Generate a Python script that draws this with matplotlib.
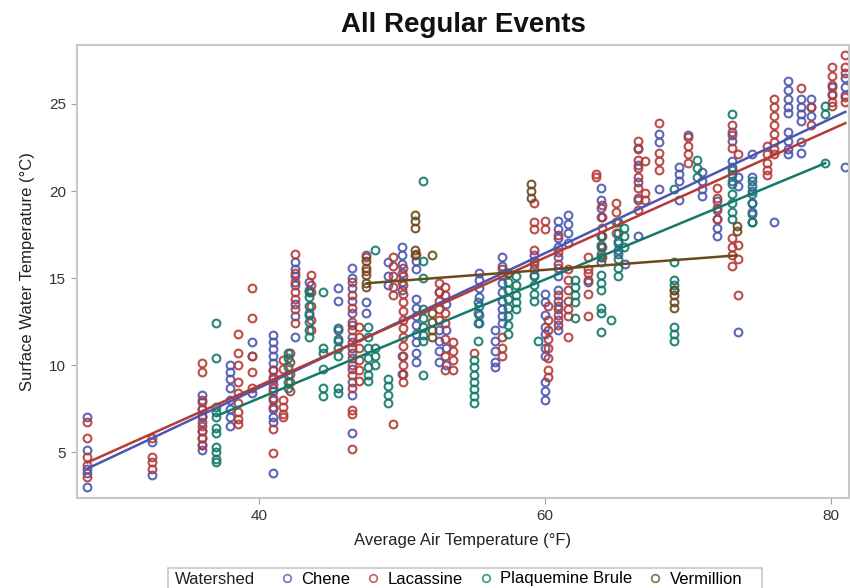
import matplotlib
matplotlib.use('Agg')
import matplotlib.pyplot as plt
from matplotlib.lines import Line2D
from matplotlib.patches import Rectangle

plt.rcParams['font.family'] = ['Liberation Sans', 'DejaVu Sans']

# ---------------- data ----------------
series_names = ['Chene', 'Lacassine', 'Plaquemine Brule', 'Vermillion']
series_colors = ['#4a56b2', '#b53a36', '#137a68', '#6b4a1e']

chene_cols_x = [28.0, 32.5, 36.0, 38.0, 39.5, 41.0, 42.5, 43.5, 45.5, 46.5, 47.5, 49.0,
                50.0, 51.0, 52.6, 53.1, 55.4, 56.5, 57.0, 59.2, 60.0, 60.9, 61.6, 63.0,
                63.9, 65.1, 65.6, 66.5, 68.0, 69.4, 70.0, 71.0, 72.0, 73.1, 73.5, 74.5,
                76.0, 77.0, 77.9, 78.6, 80.1, 81.0]
chene_cols_y = [
    [7.0, 5.1, 3.8, 3.0, 4.0],
    [5.6, 3.7],
    [8.3, 7.9, 7.5, 7.1, 6.7, 6.2, 5.8, 5.4, 5.1],
    [10.0, 9.6, 9.2, 8.7, 8.0, 7.5, 7.0, 6.5],
    [11.3, 10.5, 8.4],
    [11.7, 11.3, 10.9, 10.5, 10.1, 9.7, 9.3, 8.9, 8.5, 8.0, 7.5, 7.0, 6.7, 3.8],
    [15.9, 15.5, 15.1, 14.6, 13.5, 12.8, 11.6],
    [14.8, 14.3, 13.0],
    [14.4, 13.7, 12.0, 11.4],
    [15.6, 15.0, 14.4, 13.7, 13.0, 12.3, 11.6, 11.0, 10.4, 9.8, 9.0, 8.3, 6.1],
    [16.3, 13.6, 13.0],
    [15.9, 15.1, 14.6],
    [16.8, 16.3, 15.8, 15.3, 14.8, 14.3, 10.5, 9.5],
    [16.0, 15.5, 13.8, 13.3, 12.8, 12.3, 11.8, 11.3, 10.7, 10.2],
    [14.2, 12.0, 11.4, 10.8, 10.2],
    [13.5, 12.0, 11.0, 10.0],
    [15.3, 14.9, 14.4, 13.9, 13.4, 12.9, 12.4],
    [12.0, 11.4, 10.8, 10.2, 9.9],
    [16.2, 15.7, 15.2, 14.7, 14.2, 13.7, 13.2, 12.8, 12.4],
    [16.3, 15.8, 15.2],
    [14.1, 13.6, 12.9, 12.2, 11.8, 11.0, 10.5, 9.0, 8.5, 8.0],
    [18.3, 17.8, 17.3, 16.8, 16.2, 15.6, 15.1, 14.3, 13.7, 13.2, 12.6, 12.0],
    [18.6, 18.1, 17.6, 17.0],
    [14.8],
    [20.2, 19.5, 19.0, 18.5, 17.4, 16.8, 16.2],
    [17.0, 16.4],
    [15.8],
    [22.5, 21.5, 20.5, 19.5, 17.4],
    [23.3, 22.8, 20.1],
    [21.4, 21.0, 20.6, 19.5],
    [23.2],
    [21.1, 20.6, 20.1, 19.7],
    [19.4, 18.9, 18.4, 17.9, 17.4],
    [23.4, 22.9, 21.7, 21.2, 20.6],
    [20.8, 20.3, 11.9],
    [22.1, 20.8, 20.3, 19.8, 19.3, 18.8, 18.2],
    [18.2],
    [26.3, 25.8, 25.3, 24.8, 24.5, 23.4, 22.9, 22.4, 22.1],
    [25.3, 24.8, 24.4, 24.0, 22.8, 22.2],
    [25.3, 24.8, 24.3],
    [26.0, 25.5],
    [26.5, 26.0, 25.5, 21.4],
]

lacassine_cols_x = [28.0, 32.5, 36.0, 38.5, 39.5, 41.0, 41.7, 42.2, 42.5, 43.6, 46.5, 47.0,
                    47.5, 49.4, 50.1, 51.0, 52.6, 53.0, 53.6, 55.0, 57.0, 59.2, 60.0, 60.2,
                    60.9, 61.6, 63.0, 63.6, 64.0, 65.0, 66.5, 67.0, 68.0, 70.0, 72.0, 73.1,
                    73.5, 75.5, 76.0, 77.9, 78.6, 80.1, 81.0]
lacassine_cols_y = [
    [6.7, 5.8, 4.7, 4.25, 3.55],
    [5.8, 4.7, 4.4, 4.0],
    [10.1, 9.6, 8.0, 7.5, 7.0, 6.5, 6.2, 5.8, 5.4],
    [11.8, 10.7, 10.0, 9.0, 8.4, 7.8, 7.3, 6.9, 6.6],
    [14.4, 12.7, 10.5, 9.6, 8.7],
    [9.7, 9.2, 8.7, 8.1, 7.6, 6.3, 4.95],
    [10.3, 9.8, 8.0, 7.6, 7.2, 7.0],
    [10.7, 10.2, 9.5, 9.0, 8.5],
    [16.4, 15.3, 14.8, 14.2, 13.8, 13.2, 12.4],
    [15.2, 14.6, 14.2, 13.4, 12.6, 12.0],
    [14.8, 14.0, 13.3, 12.5, 12.0, 11.3, 10.7, 10.0, 9.4, 8.7, 7.4, 7.2, 5.2],
    [12.2, 11.6, 11.0, 10.3, 9.7, 9.1],
    [16.2, 15.4],
    [16.2, 15.7, 15.1, 14.5, 14.0, 6.6],
    [15.6, 15.1, 14.6, 14.1, 13.6, 13.1, 12.6, 12.1, 11.6, 11.1, 10.5, 10.0, 9.5, 9.0],
    [16.4],
    [14.7, 14.2, 13.7, 13.2, 12.6],
    [14.5, 14.0, 13.0, 12.4, 11.5, 10.5, 9.7],
    [11.3, 10.8, 10.3, 9.7],
    [10.7],
    [15.5, 11.6, 11.0, 10.5],
    [19.3, 18.2, 17.8, 16.6, 16.0, 15.5],
    [18.3, 17.8],
    [13.4, 12.6, 12.0, 11.5, 11.0, 10.4, 9.7, 9.3],
    [17.5, 16.5, 15.8, 14.0, 13.4, 12.9, 12.3],
    [15.5, 14.9, 14.3, 13.7, 13.2, 12.8, 11.6],
    [16.2, 15.5, 15.3, 14.9, 14.1, 12.8],
    [21.0, 20.8],
    [19.2, 18.5, 17.9, 17.4, 16.8, 16.2],
    [19.3, 18.8, 18.2, 17.6],
    [22.9, 22.4, 21.8, 21.3, 20.8, 20.2, 19.6, 18.9],
    [21.7, 19.9, 19.5],
    [23.9, 22.2, 21.7, 21.2],
    [23.1, 22.6, 22.1, 21.6],
    [20.2, 19.6, 19.0, 18.4],
    [23.8, 23.2, 22.5, 17.3, 16.8, 16.3, 15.7],
    [22.1, 16.9, 16.1, 14.0],
    [22.6, 22.1, 21.6, 21.2, 20.9],
    [25.3, 24.8, 24.3, 23.8, 23.3, 22.8, 22.4, 22.1],
    [25.9],
    [24.8, 23.8],
    [27.1, 26.6, 26.1, 25.6, 25.1, 24.9],
    [27.8, 27.1, 26.8, 25.4, 25.1],
]

plaquemine_cols_x = [37.0, 42.0, 43.5, 44.5, 45.5, 47.6, 48.1, 49.0, 51.5, 55.0, 55.3,
                     57.4, 58.0, 59.2, 59.5, 62.1, 63.9, 64.6, 65.1, 65.5, 69.0, 70.6,
                     73.1, 74.5, 79.6]
plaquemine_cols_y = [
    [12.4, 10.4, 7.6, 7.3, 7.0, 6.4, 6.1, 5.3, 5.0, 4.6, 4.4],
    [10.7, 10.4, 9.9, 9.4, 9.0, 8.7],
    [14.2, 13.9, 13.4, 12.9, 12.5, 12.0, 11.6],
    [14.2, 11.0, 10.7, 9.8, 8.7, 8.2],
    [12.1, 11.5, 11.0, 10.5, 8.7, 8.4],
    [12.2, 11.6, 11.0, 10.4, 9.9, 9.4, 9.1],
    [16.6, 11.0, 10.5, 10.0],
    [9.2, 8.8, 8.3, 7.8],
    [20.6, 16.0, 15.0, 13.2, 12.7, 12.2, 11.7, 11.4, 9.4],
    [10.3, 9.9, 9.4, 9.0, 8.6, 8.2, 7.8],
    [13.6, 13.0, 12.4, 11.4],
    [15.3, 14.8, 14.3, 13.8, 13.3, 12.8, 12.3, 11.8],
    [15.1, 14.6, 14.0, 13.6, 13.2],
    [15.1, 14.6, 14.1, 13.7],
    [11.4],
    [14.9, 14.5, 14.0, 13.6, 12.7],
    [17.4, 16.9, 16.4, 15.9, 15.2, 14.7, 14.3, 13.3, 13.0, 11.9],
    [12.6],
    [18.2, 17.6, 17.1, 16.6, 16.1, 15.6, 15.1],
    [17.9, 17.4, 16.8],
    [20.1, 15.9, 14.9, 14.6, 14.3, 12.2, 11.8, 11.4],
    [21.8, 21.3, 20.8],
    [24.4, 21.4, 20.9, 20.4, 19.8, 19.3, 18.8, 18.4],
    [20.6, 20.0, 19.3, 18.7, 18.2],
    [24.9, 24.4, 21.6],
]

vermillion_cols_x = [47.5, 50.9, 52.1, 57.4, 59.0, 69.0, 73.4]
vermillion_cols_y = [
    [16.0, 15.6, 15.2, 14.7, 14.5],
    [18.6, 18.3, 17.9, 16.6, 16.3],
    [16.3, 13.0, 12.5, 12.0, 11.6],
    [15.3],
    [20.4, 20.0, 19.6],
    [14.3, 14.0, 13.6, 13.3],
    [18.0, 17.7],
]

# fitted regression line end points
fit_x = [[28.0, 81.0], [28.0, 81.0], [37.1, 79.6], [47.55, 73.4]]
fit_y = [[4.05, 24.55], [4.4, 23.9], [7.1, 21.6], [14.7, 16.3]]

x_ticks = [40, 60, 80]
y_ticks = [5, 10, 15, 20, 25]

# ---------------- plot ----------------
all_cols = [(chene_cols_x, chene_cols_y), (lacassine_cols_x, lacassine_cols_y),
            (plaquemine_cols_x, plaquemine_cols_y), (vermillion_cols_x, vermillion_cols_y)]

fig = plt.figure(figsize=(8.5, 5.88), dpi=100)
ax = fig.add_axes([77 / 850, 90 / 588, 772 / 850, 453 / 588])

for (cx, cy), col in zip(all_cols, series_colors):
    xs, ys = [], []
    for x, yl in zip(cx, cy):
        xs.extend([x] * len(yl))
        ys.extend(yl)
    ax.plot(xs, ys, linestyle='none', marker='o', markersize=5.6,
            markerfacecolor='none', markeredgecolor=col, markeredgewidth=1.5, alpha=0.9)

for fx, fy, col in zip(fit_x, fit_y, series_colors):
    ax.plot(fx, fy, color=col, linewidth=1.8)

ax.set_xlim(27.27, 81.26)
ax.set_ylim(2.36, 28.39)
ax.set_xticks(x_ticks)
ax.set_yticks(y_ticks)
ax.tick_params(axis='both', direction='out', length=4, width=0.8, color='#a0a0a0',
               labelsize=11, labelcolor='#333333', pad=4)
for s in ax.spines.values():
    s.set_color('#c8c8c8')
    s.set_linewidth(1.5)

ax.set_title('All Regular Events', fontsize=20, fontweight='bold', pad=9, color='#111111')
ax.set_xlabel('Average Air Temperature (°F)', fontsize=12, color='#222222', labelpad=7)
ax.set_ylabel('Surface Water Temperature (°C)', fontsize=12, color='#222222', labelpad=10)

handles = [Line2D([], [], linestyle='none', marker='o', markersize=5.5, markerfacecolor='none',
                  markeredgecolor=c, markeredgewidth=1.2, alpha=0.8) for c in series_colors]
leg = fig.legend(handles, series_names, ncol=4, loc='center left',
                 bbox_to_anchor=(280 / 850, 9 / 588), frameon=False, fontsize=12,
                 handlelength=0.8, handletextpad=0.45, columnspacing=1.0, borderaxespad=0,
                 borderpad=0)
fig.text(175 / 850, 9 / 588, 'Watershed', fontsize=12, va='center', ha='left', color='#222222')
fig.patches.append(Rectangle((168 / 850, -10 / 588), 594 / 850, 30 / 588,
                             transform=fig.transFigure, fill=False, edgecolor='#c8c8c8',
                             linewidth=1.2))

fig.savefig('out.png', dpi=100, facecolor='white')
